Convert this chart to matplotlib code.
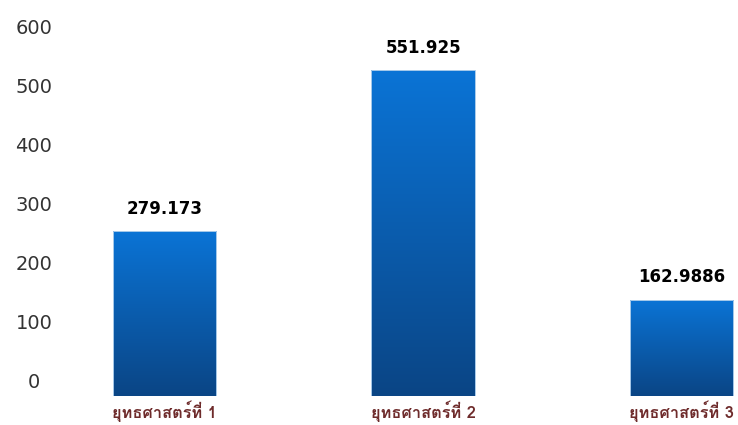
import matplotlib
matplotlib.use("Agg")
import matplotlib.pyplot as plt
import matplotlib.transforms as mtransforms
from matplotlib import font_manager
from matplotlib.colors import LinearSegmentedColormap
import numpy as np

categories = ["ยุทธศาสตร์ที่ 1", "ยุทธศาสตร์ที่ 2", "ยุทธศาสตร์ที่ 3"]
values = [279.173, 551.925, 162.9886]
value_labels = ["279.173", "551.925", "162.9886"]
yticks = [0, 100, 200, 300, 400, 500, 600]

# find a font with Thai glyphs
thai_font = None
try:
    from fontTools.ttLib import TTFont
    cands = []
    for f in font_manager.fontManager.ttflist:
        try:
            tt = TTFont(f.fname, fontNumber=0, lazy=True)
            cmap = tt.getBestCmap()
            if cmap and 0x0E22 in cmap and 0x0E17 in cmap:
                cands.append(f)
        except Exception:
            pass
    bold = [c for c in cands if c.weight in ("bold", 700) or "Bold" in c.fname]
    pick = bold[0] if bold else (cands[0] if cands else None)
    if pick is not None:
        thai_font = pick.name
except Exception:
    thai_font = None

fams = ([thai_font] if thai_font else []) + ["DejaVu Sans"]

fig = plt.figure(figsize=(7.38, 4.25), dpi=100)
W, H = 738, 425
ax = fig.add_axes([35.5 / W, 29 / H, (W - 35.5) / W, 396 / H])
x = np.arange(len(categories))
width = 0.4
bars = ax.bar(x, values, width=width, color="none", edgecolor="#A9CBEA", linewidth=0.7, zorder=3)

cmap = LinearSegmentedColormap.from_list("g", ["#0B4585", "#0A74D6"])
grad = np.linspace(0, 1, 256).reshape(-1, 1)
for b in bars:
    x0, y0 = b.get_x(), b.get_y()
    w, h = b.get_width(), b.get_height()
    im = ax.imshow(grad, extent=[x0, x0 + w, y0, y0 + h], origin="lower",
                   cmap=cmap, aspect="auto", zorder=2)
    im.set_clip_path(b)

for xi, v, lab in zip(x, values, value_labels):
    ax.annotate(lab, (xi, v), xytext=(0, 16), textcoords="offset points",
                ha="center", va="center", fontsize=12, fontweight="bold",
                color="black", family="DejaVu Sans")

ax.set_xlim(-0.5, (W - 164.5) / 258.5)
ax.set_ylim(0, 670)
ax.set_yticks(yticks)
ax.set_yticklabels([str(t) for t in yticks], fontsize=14, color="#333333")
ax.set_xticks(x)
ax.set_xticklabels(categories, fontsize=11.8, fontweight="bold", color="#6E2B2B")
for t in ax.get_xticklabels():
    t.set_family(fams)
ax.tick_params(axis="both", length=0)
ax.tick_params(axis="x", pad=3)
ax.tick_params(axis="y", pad=0)
for s in ax.spines.values():
    s.set_visible(False)

# shift y tick labels up and center them around x ≈ 34 px
ylab_off = mtransforms.ScaledTranslation(-1.5 / 100, 15 / 100, fig.dpi_scale_trans)
for t in ax.get_yticklabels():
    t.set_ha("center")
    t.set_transform(t.get_transform() + ylab_off)

fig.savefig("out.png", dpi=100)
